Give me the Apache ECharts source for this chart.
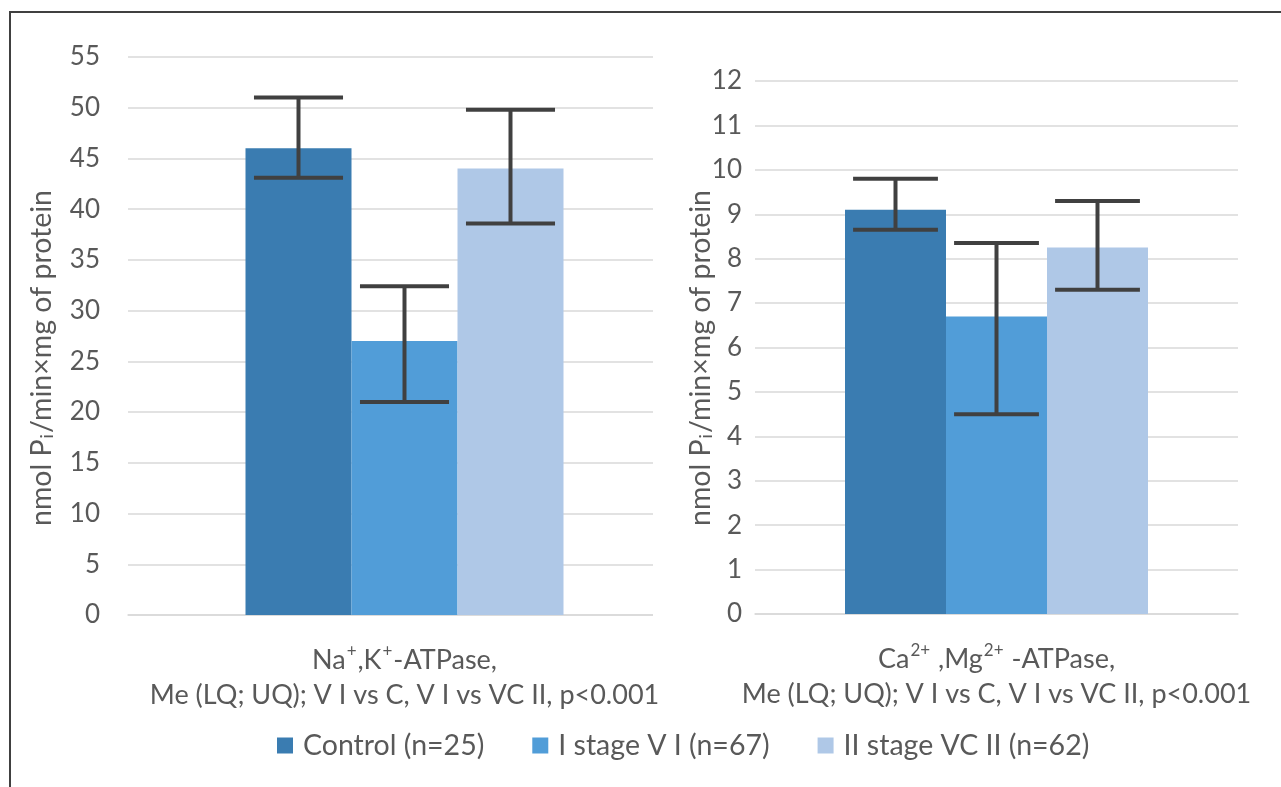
<!DOCTYPE html>
<html>
<head>
<meta charset="utf-8">
<script src="https://cdn.jsdelivr.net/npm/echarts@6/dist/echarts.min.js"></script>
<style>
html,body{margin:0;padding:0;background:#fff;}
#c{width:1281px;height:787px;}
</style>
</head>
<body>
<div id="c"></div>
<script>
// ---- data ----
const groups = ['Control (n=25)', 'I stage V I (n=67)', 'II stage VC II (n=62)'];
const colors = ['#3A7CB1', '#519DD8', '#AFC8E7'];
const catLeft = ['{t|Na}{sup|+}{t|,K}{sup|+}{t|-ATPase,}\n{t|Me (LQ; UQ); V I vs C, V I vs VC II, p<0.001}'];
const catRight = ['{t|Ca}{sup|2+}{t| ,Mg}{sup|2+}{t| -ATPase,}\n{t|Me (LQ; UQ); V I vs C, V I vs VC II, p<0.001}'];
const naKMedian = [46.0, 27.0, 44.0];
const naKLQ = [43.1, 21.0, 38.6];
const naKUQ = [51.0, 32.4, 49.8];
const caMgMedian = [9.1, 6.7, 8.25];
const caMgLQ = [8.65, 4.5, 7.3];
const caMgUQ = [9.8, 8.35, 9.3];
const leftTicks = {min: 0, max: 55, interval: 5};
const rightTicks = {min: 0, max: 12, interval: 1};
const yName = '{a|nmol P}{s|i}{a|/min×mg of protein}';

const FONT = 'Lato, "Open Sans", sans-serif';
const TXT = '#595959';
const BW = [106, 101];

const chart = echarts.init(document.getElementById('c'));

function errRender(gi) {
  return function (params, api) {
    const idx = api.value(3);
    const top = api.coord([0, api.value(2)]);
    const bot = api.coord([0, api.value(1)]);
    const x = top[0] + (idx - 1) * BW[gi];
    const cap = BW[gi] * 0.42;
    const st = {stroke: '#404040', lineWidth: 4};
    return {
      type: 'group',
      children: [
        {type: 'line', shape: {x1: x, y1: top[1], x2: x, y2: bot[1]}, style: st},
        {type: 'line', shape: {x1: x - cap, y1: top[1], x2: x + cap, y2: top[1]}, style: st},
        {type: 'line', shape: {x1: x - cap, y1: bot[1], x2: x + cap, y2: bot[1]}, style: st}
      ]
    };
  };
}

const xLabelRich = {
  t: {fontSize: 27, fontFamily: FONT, color: TXT, lineHeight: 35},
  sup: {fontSize: 17, fontFamily: FONT, color: TXT, lineHeight: 35, verticalAlign: 'top', padding: [0, 1, 0, 1]}
};

function xAxis(gi, cats) {
  return {
    type: 'category', gridIndex: gi, data: cats,
    axisLine: {lineStyle: {color: '#D9D9D9', width: 1.5}},
    axisTick: {show: false},
    axisLabel: {margin: 28, rich: xLabelRich, formatter: v => v},
    z: 0
  };
}
function yAxis(gi, t, margin) {
  return {
    type: 'value', gridIndex: gi, min: t.min, max: t.max, interval: t.interval,
    axisLine: {show: false}, axisTick: {show: false},
    splitLine: {lineStyle: {color: '#D9D9D9', width: 1.5}},
    axisLabel: {fontSize: 26, fontFamily: FONT, color: TXT, margin: margin},
    z: 0
  };
}

const series = [];
groups.forEach((g, i) => {
  series.push({type: 'bar', name: g, xAxisIndex: 0, yAxisIndex: 0, data: [naKMedian[i]],
    barWidth: BW[0], barGap: '0%', itemStyle: {color: colors[i]}, z: 10});
});
groups.forEach((g, i) => {
  series.push({type: 'bar', name: g, xAxisIndex: 1, yAxisIndex: 1, data: [caMgMedian[i]],
    barWidth: BW[1], barGap: '0%', itemStyle: {color: colors[i]}, z: 10});
});
series.push({type: 'custom', xAxisIndex: 0, yAxisIndex: 0, renderItem: errRender(0), z: 12,
  data: groups.map((g, i) => [0, naKLQ[i], naKUQ[i], i]), silent: true});
series.push({type: 'custom', xAxisIndex: 1, yAxisIndex: 1, renderItem: errRender(1), z: 12,
  data: groups.map((g, i) => [0, caMgLQ[i], caMgUQ[i], i]), silent: true});

const nameStyle = {
  text: yName,
  rich: {
    a: {fontSize: 28.5, fontFamily: FONT, fill: TXT},
    s: {fontSize: 18, fontFamily: FONT, fill: TXT, verticalAlign: 'bottom', padding: [11, 1, 0, 1]}
  },
  align: 'center', verticalAlign: 'middle'
};

chart.setOption({
  animation: false,
  backgroundColor: '#fff',
  grid: [
    {left: 128, top: 57, width: 553, bottom: 172},
    {left: 755, top: 81, width: 483, bottom: 173}
  ],
  xAxis: [xAxis(0, catLeft), xAxis(1, catRight)],
  yAxis: [yAxis(0, leftTicks, 28), yAxis(1, rightTicks, 13)],
  legend: {
    data: groups, left: 277, top: 731, padding: 0, itemGap: 48,
    itemWidth: 16, itemHeight: 16, icon: 'rect',
    textStyle: {fontSize: 28.5, fontFamily: FONT, color: TXT, padding: [0, 0, 0, 5]}
  },
  graphic: [
    {type: 'rect', z: 5, shape: {x: 653, y: 40, width: 32, height: 590}, style: {fill: '#fff'}},
    {type: 'rect', z: 20, shape: {x: 10, y: 12, width: 1300, height: 800}, style: {fill: 'none', stroke: '#404040', lineWidth: 2}},
    {type: 'text', z: 20, x: 42, y: 358, rotation: Math.PI / 2, style: nameStyle},
    {type: 'text', z: 20, x: 701, y: 358, rotation: Math.PI / 2, style: nameStyle}
  ],
  series: series
});
</script>
</body>
</html>
